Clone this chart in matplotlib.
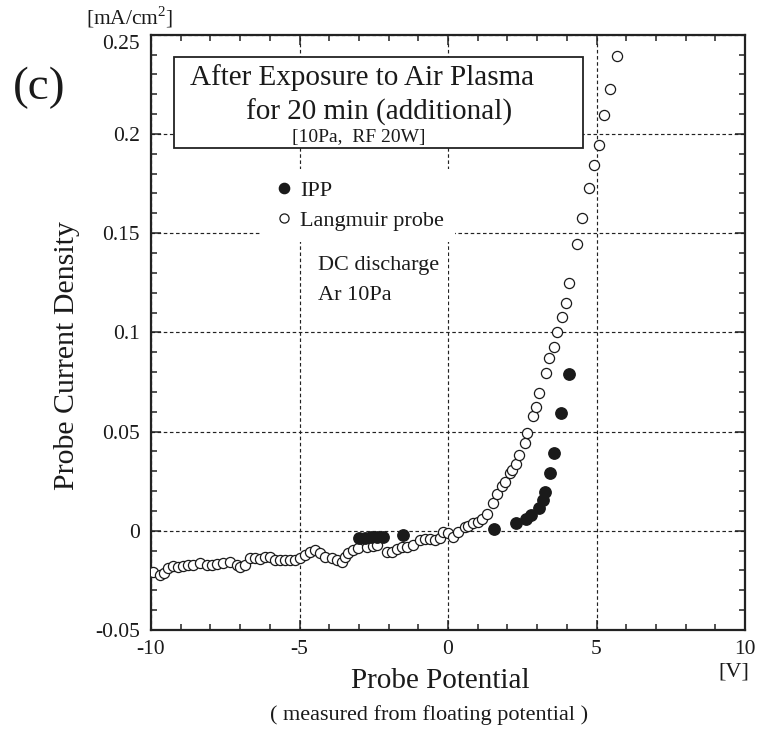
import matplotlib
matplotlib.use("Agg")
import matplotlib.pyplot as plt
from matplotlib.patches import Rectangle
from matplotlib.ticker import MultipleLocator

plt.rcParams['font.family'] = ['Liberation Serif', 'DejaVu Serif']
plt.rcParams['mathtext.fontset'] = 'custom'
plt.rcParams['mathtext.rm'] = 'Liberation Serif'
plt.rcParams['axes.unicode_minus'] = False

# Langmuir probe (open circles)
lp_v = [-9.92, -9.70, -9.56, -9.42, -9.25, -9.08, -8.91, -8.74, -8.57, -8.35,
        -8.12, -7.95, -7.79, -7.56, -7.33, -7.11, -7.00, -6.84, -6.67, -6.50,
        -6.33, -6.16, -5.99, -5.82, -5.66, -5.49, -5.32, -5.15, -4.98, -4.81,
        -4.65, -4.48, -4.31, -4.14, -3.92, -3.75, -3.58, -3.47, -3.36, -3.19,
        -3.02, -2.74, -2.51, -2.38, -2.07, -1.90, -1.73, -1.56, -1.39, -1.17,
        -0.94, -0.77, -0.61, -0.44, -0.27, -0.16, 0.00, 0.18, 0.35, 0.57,
        0.69, 0.85, 1.02, 1.13, 1.30, 1.50, 1.66, 1.81, 1.92, 2.09,
        2.14, 2.29, 2.40, 2.59, 2.67, 2.85, 2.96, 3.07, 3.30, 3.41,
        3.58, 3.68, 3.85, 3.96, 4.08, 4.33, 4.51, 4.75, 4.92, 5.09,
        5.26, 5.45, 5.70]
lp_j = [-0.0206, -0.0223, -0.0213, -0.0189, -0.0177, -0.0181, -0.0177, -0.0172, -0.0172, -0.0164,
        -0.0172, -0.0172, -0.0167, -0.0160, -0.0156, -0.0172, -0.0180, -0.0172, -0.0139, -0.0139,
        -0.0144, -0.0130, -0.0130, -0.0147, -0.0147, -0.0147, -0.0147, -0.0147, -0.0139, -0.0122,
        -0.0105, -0.0097, -0.0113, -0.0130, -0.0139, -0.0147, -0.0156, -0.0130, -0.0113, -0.0097,
        -0.0088, -0.0083, -0.0077, -0.0072, -0.0105, -0.0105, -0.0093, -0.0083, -0.0080, -0.0072,
        -0.0046, -0.0043, -0.0043, -0.0046, -0.0038, -0.0005, -0.0013, -0.0030, -0.0005, 0.0018,
        0.0024, 0.0038, 0.0046, 0.0058, 0.0085, 0.0142, 0.0185, 0.0226, 0.0248, 0.0293,
        0.0306, 0.0337, 0.0382, 0.0444, 0.0494, 0.0579, 0.0626, 0.0696, 0.0797, 0.0869,
        0.0925, 0.1000, 0.1079, 0.1150, 0.1250, 0.1444, 0.1575, 0.1726, 0.1844, 0.1945,
        0.2096, 0.2225, 0.2393]

# IPP (filled circles)
ipp_v = [-3.00, -2.80, -2.58, -2.40, -2.18, -1.50, 1.56, 2.29, 2.63, 2.79,
         3.07, 3.19, 3.25, 3.42, 3.58, 3.81, 4.08]
ipp_j = [-0.0038, -0.0038, -0.0033, -0.0033, -0.0033, -0.0021, 0.0009, 0.0041, 0.0058, 0.0080,
         0.0113, 0.0155, 0.0194, 0.0293, 0.0394, 0.0595, 0.0789]

xticks = [-10, -5, 0, 5, 10]
xticklabels = ['-10', '-5', '0', '5', '10']
yticks = [-0.05, 0, 0.05, 0.1, 0.15, 0.2, 0.25]
yticklabels = ['-0.05', '0', '0.05', '0.1', '0.15', '0.2', '0.25']

W, H = 757, 733
fig = plt.figure(figsize=(W / 100, H / 100), dpi=100)
L, R, T, B = 151, 745, 34.7, 630
ax = fig.add_axes([L / W, 1 - B / H, (R - L) / W, (B - T) / H])

# pixel -> axes fraction helpers (layout only)
def axx(px):
    return (px - L) / (R - L)

def axy(py):
    return (B - py) / (B - T)

ink = '#1a1a1a'

ax.set_xlim(-10, 10)
ax.set_ylim(-0.05, 0.25)
ax.set_xticks(xticks)
ax.set_xticklabels(xticklabels)
ax.set_yticks(yticks)
ax.set_yticklabels(yticklabels)
ax.xaxis.set_minor_locator(MultipleLocator(1))
ax.yaxis.set_minor_locator(MultipleLocator(0.01))
ax.tick_params(which='both', direction='in', top=True, right=True, width=1.1, color='#222222')
ax.tick_params(which='major', length=7, labelsize=15.5, labelcolor=ink)
ax.tick_params(which='minor', length=4.3)
ax.tick_params(axis='x', which='major', pad=7)
ax.tick_params(axis='y', which='major', pad=8)
ylabs = ax.get_yticklabels()
for lab in ylabs:
    lab.set_va('center_baseline')
ylabs[-1].set_va('top')   # top label sits just under the frame corner
for s in ax.spines.values():
    s.set_linewidth(1.6)
    s.set_color('#222222')

ax.set_axisbelow(True)
ax.grid(True, which='major', color='#222222', linestyle=(0, (3, 2.2)), linewidth=0.85)

ipp_line, = ax.plot(ipp_v, ipp_j, 'o', ms=8.2, mfc=ink, mec=ink, zorder=5, label='IPP')
lp_line, = ax.plot(lp_v, lp_j, 'o', ms=7.3, mfc='white', mec=ink, mew=0.9, zorder=4,
                   label='Langmuir probe')

# title box
ax.add_patch(Rectangle((axx(174), axy(148)), axx(583) - axx(174), axy(57) - axy(148),
                       transform=ax.transAxes, facecolor='white', edgecolor='#222222',
                       linewidth=1.3, zorder=3))
ax.text(axx(190), axy(85), 'After Exposure to Air Plasma', transform=ax.transAxes,
        fontsize=21, ha='left', va='baseline', color=ink, zorder=4)
ax.text(axx(246), axy(120), 'for 20 min (additional)', transform=ax.transAxes,
        fontsize=21, ha='left', va='baseline', color=ink, zorder=4)
ax.text(axx(292), axy(142), '[10Pa,  RF 20W]', transform=ax.transAxes,
        fontsize=14, ha='left', va='baseline', color=ink, zorder=4)

leg = ax.legend(handles=[ipp_line, lp_line], loc='upper left',
                bbox_to_anchor=(axx(260), axy(169)), bbox_transform=ax.transAxes,
                borderaxespad=0, fontsize=16, frameon=True, fancybox=False,
                framealpha=1, edgecolor='white', facecolor='white',
                handlelength=1.2, handletextpad=0.1, borderpad=0.5,
                labelspacing=0.42, markerscale=0.9)
leg.get_frame().set_linewidth(0)
for t in leg.get_texts():
    t.set_color(ink)

ax.text(axx(318), axy(256), 'DC discharge\nAr 10Pa', transform=ax.transAxes,
        fontsize=16, ha='left', va='top', linespacing=1.8, color=ink,
        bbox=dict(boxstyle='square,pad=0.4', facecolor='white', edgecolor='none'),
        zorder=3)

ax.set_ylabel('Probe Current Density', fontsize=21.5, color=ink)
ax.yaxis.set_label_coords(axx(67), axy(356))
ax.yaxis.label.set_va('center')

fig.text(440 / W, 1 - 681 / H, 'Probe Potential', fontsize=21, ha='center', va='center',
         color=ink)
fig.text(429 / W, 1 - 715 / H, '( measured from floating potential )', fontsize=16,
         ha='center', va='center', color=ink)
fig.text(734 / W, 1 - 672 / H, '[V]', fontsize=16, ha='center', va='center', color=ink)
fig.text(86 / W, 1 - 17 / H, '[mA/cm$^2$]', fontsize=15.5, ha='left', va='center',
         color=ink)
fig.text(39 / W, 1 - 88 / H, '(c)', fontsize=34, ha='center', va='center', color=ink)

fig.savefig('out.png', dpi=100)
